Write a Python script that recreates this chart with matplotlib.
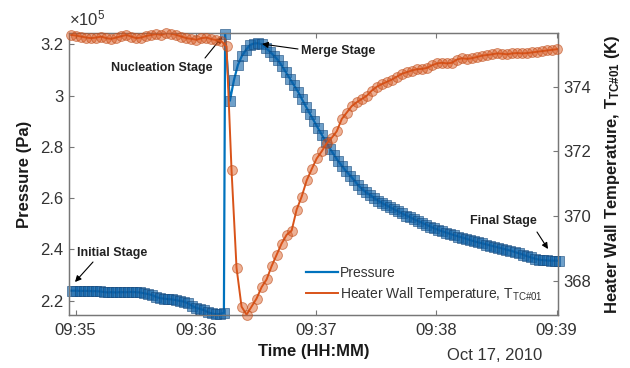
import numpy as np
import matplotlib
matplotlib.use("Agg")
import matplotlib.pyplot as plt
import matplotlib.dates as mdates

plt.rcParams['font.family'] = ['Liberation Sans', 'DejaVu Sans']
plt.rcParams['mathtext.default'] = 'regular'

# ---------------- data ----------------
t0 = np.datetime64('2010-10-17T09:35:00')

# pressure, x1e5 Pa, sampled every 2 s starting at -2 s (before the spike)
p_pre = [2.239, 2.239, 2.238, 2.238, 2.238, 2.237, 2.237, 2.236, 2.234, 2.232,
         2.233, 2.232, 2.233, 2.233, 2.233, 2.234, 2.233, 2.232, 2.229, 2.226,
         2.222, 2.215, 2.210, 2.208, 2.206, 2.205, 2.202, 2.199, 2.196, 2.190,
         2.180, 2.172, 2.168, 2.163, 2.155, 2.150, 2.147, 2.148, 2.152]
p_spike_t = 74.6
p_spike = 3.24
# after the spike, every 2 s starting at 77 s
p_post = [2.980, 3.060, 3.120, 3.155, 3.178, 3.197, 3.203, 3.204, 3.200, 3.186,
          3.171, 3.155, 3.138, 3.115, 3.090, 3.065, 3.040, 3.015, 2.985, 2.956,
          2.928, 2.900, 2.872, 2.845, 2.818, 2.792, 2.768, 2.745, 2.724, 2.705,
          2.688, 2.670, 2.650, 2.635, 2.622, 2.612, 2.600, 2.590, 2.580, 2.572,
          2.564, 2.556, 2.548, 2.540, 2.532, 2.525, 2.517, 2.510, 2.503, 2.496,
          2.489, 2.482, 2.476, 2.470, 2.465, 2.460, 2.455, 2.450, 2.446, 2.441,
          2.436, 2.431, 2.427, 2.423, 2.419, 2.415, 2.411, 2.407, 2.403, 2.399,
          2.395, 2.390, 2.385, 2.380, 2.374, 2.369, 2.364, 2.360, 2.358, 2.357,
          2.356, 2.356, 2.356]

# heater wall temperature (K), every 2.5 s starting at -2.2 s
temp = [375.60, 375.58, 375.55, 375.52, 375.50, 375.52, 375.55, 375.50, 375.48, 375.52,
        375.56, 375.60, 375.55, 375.50, 375.52, 375.57, 375.60, 375.63, 375.60, 375.66,
        375.64, 375.60, 375.55, 375.50, 375.48, 375.45, 375.50, 375.52, 375.47, 375.44,
        375.40, 375.25, 371.43, 368.40, 367.20, 366.95, 367.20, 367.45, 367.80, 368.04,
        368.45, 368.80, 369.15, 369.42, 369.55, 370.20, 370.60, 371.10, 371.45, 371.78,
        372.00, 372.25, 372.42, 372.62, 373.00, 373.20, 373.40, 373.52, 373.62, 373.72,
        373.88, 374.00, 374.08, 374.15, 374.22, 374.31, 374.40, 374.45, 374.50, 374.54,
        374.55, 374.58, 374.66, 374.72, 374.74, 374.72, 374.74, 374.84, 374.88, 374.86,
        374.88, 374.92, 374.96, 374.98, 375.00, 375.03, 375.02, 375.00, 375.03, 375.04,
        375.03, 375.04, 375.06, 375.08, 375.10, 375.12, 375.14, 375.16]

p_left_ticks = [2.2, 2.4, 2.6, 2.8, 3.0, 3.2]
t_right_ticks = [368, 370, 372, 374]
x_ticks_min = [0, 1, 2, 3, 4]

# ---------------- build time axes ----------------
def to_time(sec):
    return t0 + (np.asarray(sec) * 1000).astype('timedelta64[ms]')

sec_p = np.concatenate([-2 + 2 * np.arange(len(p_pre)), [p_spike_t],
                        77 + 2 * np.arange(len(p_post))])
pres = np.concatenate([p_pre, [p_spike], p_post])
sec_t = -2.2 + 2.5 * np.arange(len(temp))

tp = to_time(sec_p)
tt = to_time(sec_t)

blue = '#0072BD'
orange = '#D95319'

fig = plt.figure(figsize=(6.3, 3.68), dpi=100)
ax = fig.add_axes([0.1095, 0.144, 0.7762, 0.7663])
ax2 = ax.twinx()

l1, = ax.plot(tp, pres, color=blue, lw=1.6, zorder=2)
ax.scatter(tp, pres, s=44, marker='s', facecolor=(0.05, 0.38, 0.66, 0.6),
           edgecolor=(0.08, 0.28, 0.48, 0.55), linewidth=0.7, zorder=3, clip_on=False)

l2, = ax2.plot(tt, temp, color=orange, lw=1.4, zorder=2)
ax2.scatter(tt, temp, s=50, marker='o', facecolor=(0.85, 0.33, 0.1, 0.45),
            edgecolor=(0.75, 0.3, 0.1, 0.6), linewidth=0.7, zorder=3, clip_on=False)

ax.set_xlim(to_time(-3.3), to_time(240.7))
ax.set_ylim(2.144, 3.244)
ax2.set_ylim(366.94, 375.66)

ax.set_xticks(to_time(np.array(x_ticks_min) * 60))
ax.xaxis.set_major_formatter(mdates.DateFormatter('%H:%M'))
ax.set_yticks(p_left_ticks)
ax.set_yticklabels(['%g' % v for v in p_left_ticks])
ax2.set_yticks(t_right_ticks)

spine_c = '#777777'
tick_c = '#333333'
for a in (ax, ax2):
    for s in a.spines.values():
        s.set_color(spine_c)
        s.set_linewidth(0.9)
    a.tick_params(direction='in', length=3.5, width=0.8, color=spine_c,
                  labelcolor=tick_c, labelsize=12)
ax.tick_params(axis='x', top=True, pad=6)
ax.tick_params(axis='y', pad=4)
ax2.tick_params(axis='y', pad=4)

ax.set_xlabel('Time (HH:MM)', fontsize=12, fontweight='bold', color='#1a1a1a', labelpad=4)
ax.set_ylabel('Pressure (Pa)', fontsize=12, fontweight='bold', color='#1a1a1a', labelpad=6)
ax2.set_ylabel(r'Heater Wall Temperature, T$_{TC\#01}$ (K)', fontsize=12,
               fontweight='bold', color='#1a1a1a', labelpad=8)

ax.text(0.0, 1.015, r'$\times10^{5}$', transform=ax.transAxes, fontsize=12,
        color=tick_c, ha='left', va='bottom')
ax.text(0.871, -0.145, 'Oct 17, 2010', transform=ax.transAxes, fontsize=12,
        color=tick_c, ha='center', va='center')

# stage annotations
arrow = dict(arrowstyle='-|>', color='black', lw=0.8, mutation_scale=9,
             shrinkA=0, shrinkB=0)
ann = dict(fontsize=9, fontweight='bold', color='#222222',
           xycoords='figure pixels', textcoords='figure pixels', arrowprops=arrow)
H = 368
ax.annotate('', xy=(75, H - 282), xytext=(93, H - 262), **ann)
ax.text(77, H - 253, 'Initial Stage', transform=None, fontsize=9,
        fontweight='bold', color='#222222', va='center')
ax.annotate('', xy=(222, H - 37), xytext=(205, H - 58), **ann)
ax.text(111, H - 68, 'Nucleation Stage', transform=None, fontsize=9,
        fontweight='bold', color='#222222', va='center')
ax.annotate('', xy=(262, H - 44), xytext=(298, H - 49), **ann)
ax.text(301, H - 51, 'Merge Stage', transform=None, fontsize=9,
        fontweight='bold', color='#222222', va='center')
ax.annotate('', xy=(548, H - 249), xytext=(537, H - 232), **ann)
ax.text(470, H - 221, 'Final Stage', transform=None, fontsize=9,
        fontweight='bold', color='#222222', va='center')

ax2.legend([l1, l2], ['Pressure', r'Heater Wall Temperature, T$_{TC\#01}$'],
           loc='upper left', bbox_to_anchor=(300 / 630, 1 - 260 / 368),
           bbox_transform=fig.transFigure, frameon=False, fontsize=10,
           handlelength=2.3, handletextpad=0.2, labelspacing=0.4,
           borderaxespad=0, labelcolor='#333333')

fig.savefig('out.png', dpi=100)
